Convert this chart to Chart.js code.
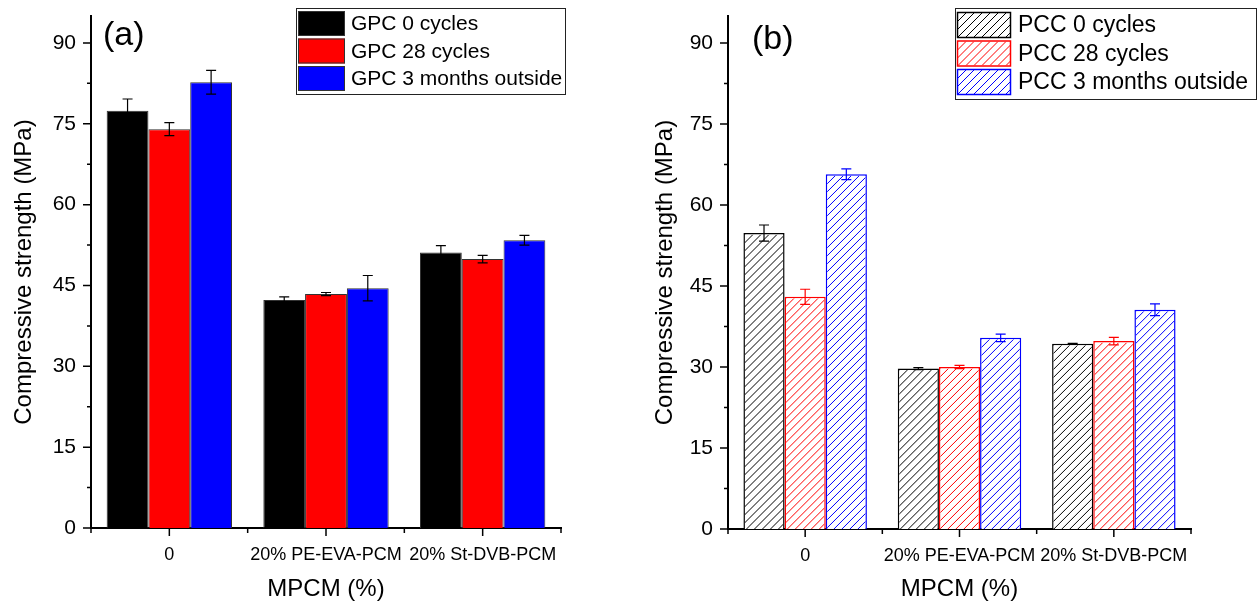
<!DOCTYPE html>
<html>
<head>
<meta charset="utf-8">
<script src="https://cdn.jsdelivr.net/npm/chart.js@4.4.1/dist/chart.umd.min.js"></script>
<style>
  body { margin: 0; background: #fff; }
  .panel { position: absolute; top: 0; width: 630px; height: 606px; }
</style>
</head>
<body>
<div class="panel" style="left:0"><canvas id="chartA" width="630" height="606"></canvas></div>
<div class="panel" style="left:630px"><canvas id="chartB" width="630" height="606"></canvas></div>
<script>
// data
var categories = ['0', '20% PE-EVA-PCM', '20% St-DVB-PCM'];
var yTicks = [0, 15, 30, 45, 60, 75, 90];

var gpcLabels = ['GPC 0 cycles', 'GPC 28 cycles', 'GPC 3 months outside'];
var gpc0 = [77.4, 42.3, 51.1];
var gpc0Err = [2.2, 0.6, 1.3];
var gpc28 = [74.0, 43.4, 49.9];
var gpc28Err = [1.2, 0.3, 0.7];
var gpcOut = [82.7, 44.5, 53.4];
var gpcOutErr = [2.2, 2.35, 0.9];

var pccLabels = ['PCC 0 cycles', 'PCC 28 cycles', 'PCC 3 months outside'];
var pcc0 = [54.8, 29.7, 34.3];
var pcc0Err = [1.5, 0.2, 0.1];
var pcc28 = [43.0, 30.0, 34.8];
var pcc28Err = [1.4, 0.3, 0.7];
var pccOut = [65.7, 35.4, 40.6];
var pccOutErr = [1.0, 0.7, 1.1];

var seriesColors = ['#000000', '#ff0000', '#0000ff'];
var FONT = '"Liberation Sans", Arial, sans-serif';

// "/" hatch lines clipped to a rectangle
function hatchRect(ctx, x, y, w, h, color) {
    ctx.save();
    ctx.beginPath();
    ctx.rect(x, y, w, h);
    ctx.clip();
    ctx.strokeStyle = color;
    ctx.lineWidth = 1;
    ctx.beginPath();
    for (var s = x - h - 8; s < x + w + 8; s += 8) {
        ctx.moveTo(s, y + h); ctx.lineTo(s + h, y);
    }
    ctx.stroke();
    ctx.restore();
}

var hatching = {
    id: 'hatching',
    afterDatasetsDraw: function(chart) {
        var ctx = chart.ctx;
        chart.data.datasets.forEach(function(ds, i) {
            if (!ds.hatchColor) return;
            chart.getDatasetMeta(i).data.forEach(function(bar) {
                var b = bar.getProps(['x', 'y', 'base', 'width']);
                var bw = ds.borderWidth;
                hatchRect(ctx, b.x - b.width / 2 + bw, b.y + bw, b.width - 2 * bw, b.base - b.y - bw, ds.hatchColor);
            });
        });
    }
};

// outward axis ticks, major and minor
var axisTicks = {
    id: 'axisTicks',
    afterDraw: function(chart) {
        var ctx = chart.ctx, xs = chart.scales.x, ys = chart.scales.y;
        ctx.save();
        ctx.strokeStyle = '#000';
        ctx.lineWidth = 1.5;
        ctx.beginPath();
        yTicks.forEach(function(v, i) {
            var py = ys.getPixelForValue(v);
            ctx.moveTo(xs.left - 8, py); ctx.lineTo(xs.left, py);
            if (i < yTicks.length - 1) {
                var pm = ys.getPixelForValue((v + yTicks[i + 1]) / 2);
                ctx.moveTo(xs.left - 4, pm); ctx.lineTo(xs.left, pm);
            }
        });
        var base = ys.bottom;
        for (var i = 0; i < categories.length; i++) {
            var px = xs.getPixelForValue(i);
            ctx.moveTo(px, base); ctx.lineTo(px, base + 8);
        }
        for (var j = 0; j <= categories.length; j++) {
            var pb = xs.getPixelForValue(j - 0.5);
            ctx.moveTo(pb, base); ctx.lineTo(pb, base + 5);
        }
        ctx.stroke();
        ctx.restore();
    }
};

var errorBars = {
    id: 'errorBars',
    afterDatasetsDraw: function(chart) {
        var ctx = chart.ctx, ys = chart.scales.y;
        chart.data.datasets.forEach(function(ds, i) {
            var meta = chart.getDatasetMeta(i);
            ctx.save();
            ctx.strokeStyle = ds.errorColor;
            ctx.lineWidth = 1.2;
            meta.data.forEach(function(bar, j) {
                var v = ds.data[j], e = ds.errors[j];
                var top = ys.getPixelForValue(v + e), bot = ys.getPixelForValue(v - e);
                ctx.beginPath();
                ctx.moveTo(bar.x, top); ctx.lineTo(bar.x, bot);
                ctx.moveTo(bar.x - 5, top); ctx.lineTo(bar.x + 5, top);
                ctx.moveTo(bar.x - 5, bot); ctx.lineTo(bar.x + 5, bot);
                ctx.stroke();
            });
            ctx.restore();
        });
    }
};

var boxLegend = {
    id: 'boxLegend',
    afterDraw: function(chart, args, o) {
        var ctx = chart.ctx;
        ctx.save();
        ctx.fillStyle = '#fff';
        ctx.fillRect(o.x, o.y, o.w, o.h);
        ctx.strokeStyle = '#222';
        ctx.lineWidth = 1;
        ctx.strokeRect(o.x + 0.5, o.y + 0.5, o.w, o.h);
        ctx.font = o.size + 'px ' + FONT;
        ctx.textBaseline = 'middle';
        chart.data.datasets.forEach(function(ds, i) {
            var sy = o.y + o.first + i * o.step;
            ctx.fillStyle = ds.backgroundColor;
            ctx.fillRect(o.x + 2, sy, o.sw, o.sh);
            if (ds.hatchColor) hatchRect(ctx, o.x + 3, sy + 1, o.sw - 2, o.sh - 2, ds.hatchColor);
            ctx.strokeStyle = ds.borderColor;
            ctx.lineWidth = ds.borderWidth;
            ctx.strokeRect(o.x + 2.5, sy + 0.5, o.sw - 1, o.sh - 1);
            ctx.fillStyle = '#000';
            ctx.fillText(ds.label, o.tx, sy + o.sh / 2 + 1);
        });
        ctx.restore();
    }
};

var panelLabel = {
    id: 'panelLabel',
    afterDraw: function(chart, args, o) {
        var ctx = chart.ctx;
        ctx.save();
        ctx.font = '34px ' + FONT;
        ctx.fillStyle = '#000';
        ctx.textBaseline = 'middle';
        ctx.fillText(o.text, o.x, o.y);
        ctx.restore();
    }
};

function makeChart(id, datasets, cfg) {
    return new Chart(document.getElementById(id), {
        type: 'bar',
        data: { labels: categories, datasets: datasets },
        plugins: [hatching, axisTicks, errorBars, boxLegend, panelLabel],
        options: {
            responsive: false,
            animation: false,
            devicePixelRatio: 1,
            layout: { padding: { left: 0, top: 16, right: 69, bottom: 0 } },
            datasets: { bar: { categoryPercentage: 0.8, barPercentage: 1.0 } },
            plugins: {
                legend: { display: false },
                tooltip: { enabled: false },
                boxLegend: cfg.legend,
                panelLabel: cfg.label
            },
            scales: {
                x: {
                    grid: { display: false },
                    border: { display: true, color: '#000', width: 2 },
                    ticks: { color: '#000', padding: 8, maxRotation: 0, autoSkip: false,
                             font: { family: FONT, size: 18 } },
                    title: { display: true, text: 'MPCM (%)', color: '#000',
                             font: { family: FONT, size: 24 }, padding: { top: 0, bottom: 2.6 } },
                    afterFit: function(s) { s.height = cfg.xHeight; s.paddingLeft = 0; s.paddingRight = 0; }
                },
                y: {
                    min: 0, max: 95,
                    grid: { display: false },
                    border: { display: true, color: '#000', width: 2 },
                    ticks: {
                        stepSize: 7.5, color: '#000', padding: 7,
                        font: { family: FONT, size: 21 },
                        callback: function(v) { return yTicks.indexOf(v) >= 0 ? v : ''; }
                    },
                    title: { display: true, text: 'Compressive strength (MPa)', color: '#000',
                             font: { family: FONT, size: 24 }, padding: { top: cfg.yTitlePad, bottom: 0 } },
                    afterFit: function(s) { s.width = cfg.yWidth; s.paddingTop = 0; s.paddingBottom = 0; }
                }
            }
        }
    });
}

var gpcData = [gpc0, gpc28, gpcOut];
var gpcErr = [gpc0Err, gpc28Err, gpcOutErr];
makeChart('chartA', gpcLabels.map(function(l, i) {
    return { label: l, data: gpcData[i], errors: gpcErr[i], errorColor: '#000',
             backgroundColor: seriesColors[i], borderColor: '#333', borderWidth: 1 };
}), {
    xHeight: 78, yWidth: 91, yTitlePad: 9.6,
    legend: { x: 296, y: 8, w: 269, h: 86, first: 3, step: 27.5, sw: 47, sh: 25, tx: 351, size: 21 },
    label: { text: '(a)', x: 103, y: 36 }
});

var pccData = [pcc0, pcc28, pccOut];
var pccErr = [pcc0Err, pcc28Err, pccOutErr];
makeChart('chartB', pccLabels.map(function(l, i) {
    return { label: l, data: pccData[i], errors: pccErr[i], errorColor: seriesColors[i],
             backgroundColor: '#ffffff', hatchColor: seriesColors[i],
             borderColor: seriesColors[i], borderWidth: 1.5 };
}), {
    xHeight: 77, yWidth: 98, yTitlePad: 20.6,
    legend: { x: 325, y: 8, w: 301, h: 91, first: 4, step: 28.5, sw: 54, sh: 26, tx: 388, size: 23 },
    label: { text: '(b)', x: 122, y: 40 }
});
</script>
</body>
</html>
